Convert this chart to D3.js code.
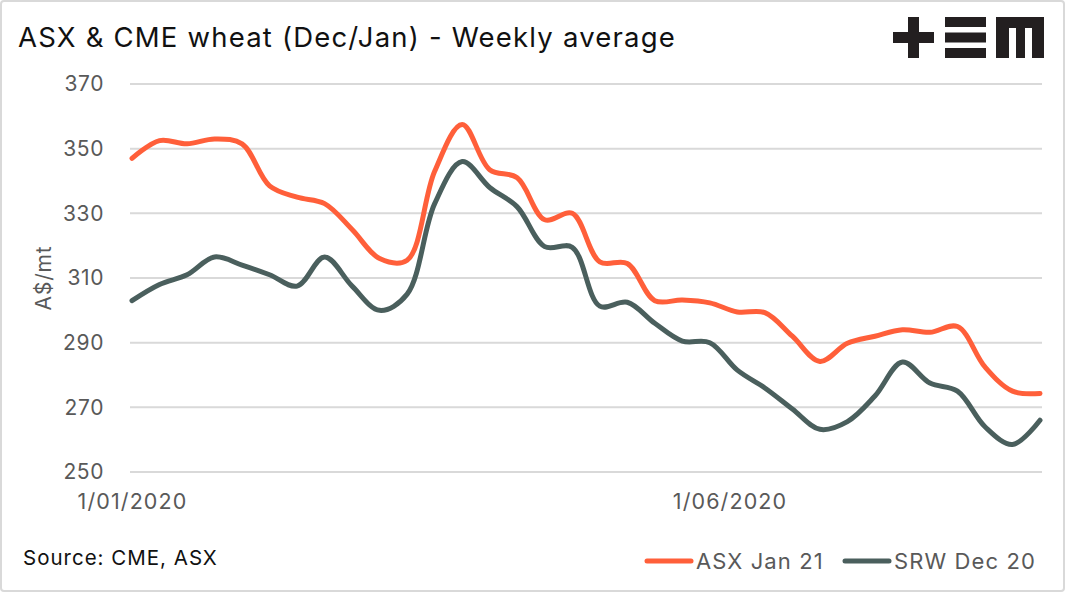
<!DOCTYPE html>
<html>
<head>
<meta charset="utf-8">
<script src="https://cdn.jsdelivr.net/npm/d3@7"></script>
<style>
  body { margin: 0; background: #fff; }
  text { font-family: Inter, "Open Sans", sans-serif; }
</style>
</head>
<body>
<svg id="chart" width="1065" height="592"></svg>
<script>
// weekly averages, starting 1 Jan 2020
const startDate = new Date(2020, 0, 1)
const asxJan21 = [347, 352.5, 351.5, 353, 351.5, 338.5, 335, 333, 325, 316, 315.5, 343, 357.5, 343.5, 341,
  328, 330, 315, 314.5, 303, 303.2, 302.3, 299.5, 299.3, 292, 284.2, 289.8, 292, 294, 293.2, 295, 282.5, 275, 274.3]
const srwDec20 = [303, 308, 311, 316.5, 314, 311, 307.5, 316.5, 307.5, 300, 305, 333, 346, 338, 332,
  319.7, 319.5, 301.3, 302.5, 296, 290.5, 290, 281.5, 276, 269.5, 263.2, 265.6, 273.5, 284, 277.5, 275, 264, 258.5, 266]
const yTicks = [250, 270, 290, 310, 330, 350, 370]
const xTicks = [new Date(2020, 0, 1), new Date(2020, 5, 1)]
const seriesNames = ['ASX Jan 21', 'SRW Dec 20']
const colors = ['#ff5f3a', '#4a5f5d']

const dates = asxJan21.map((d, i) => d3.timeDay.offset(startDate, i * 7))

const svg = d3.select('#chart')

// outer frame
svg.append('rect')
  .attr('x', 1).attr('y', 1)
  .attr('width', 1063).attr('height', 590)
  .attr('rx', 3)
  .attr('fill', '#fff')
  .attr('stroke', '#d9d9d9')
  .attr('stroke-width', 2)

svg.append('text')
  .attr('x', 18).attr('y', 47)
  .attr('font-size', 27.5)
  .attr('letter-spacing', 1.2)
  .attr('fill', '#111')
  .text('ASX & CME wheat (Dec/Jan) - Weekly average')

// logo
const logo = svg.append('g').attr('fill', '#231f20')
logo.append('rect').attr('x', 893).attr('y', 32).attr('width', 41).attr('height', 11)
logo.append('rect').attr('x', 908).attr('y', 17).attr('width', 11).attr('height', 41)
;[17, 32.5, 48].forEach(y => logo.append('rect').attr('x', 945).attr('y', y).attr('width', 41).attr('height', 10))
logo.append('path')
  .attr('d', 'M996,17H1044V58H1032V28H1025V58H1016V28H1009V58H996Z')

const x = d3.scaleTime()
  .domain([startDate, dates[dates.length - 1]])
  .range([132, 1040])

const y = d3.scaleLinear()
  .domain([250, 370])
  .range([472, 84])

// gridlines
svg.append('g')
  .selectAll('line')
  .data(yTicks)
  .join('line')
    .attr('x1', 130).attr('x2', 1042)
    .attr('y1', d => y(d)).attr('y2', d => y(d))
    .attr('stroke', '#d9d9d9')
    .attr('stroke-width', 2)

const yAxis = svg.append('g')
  .attr('transform', 'translate(104,0)')
  .call(d3.axisLeft(y).tickValues(yTicks).tickSize(0).tickPadding(0))
yAxis.select('.domain').remove()
yAxis.selectAll('text')
  .attr('font-size', 21)
  .attr('letter-spacing', 0.6)
  .attr('fill', '#595959')
  .style('font-family', 'Inter, sans-serif')

const xAxis = svg.append('g')
  .attr('transform', 'translate(0,492)')
  .call(d3.axisBottom(x).tickValues(xTicks).tickFormat(d3.timeFormat('%-d/%m/%Y')).tickSize(0).tickPadding(0))
xAxis.select('.domain').remove()
xAxis.selectAll('text')
  .attr('font-size', 21.5)
  .attr('letter-spacing', 1.1)
  .attr('fill', '#595959')
  .attr('dy', '0.8em')
  .style('font-family', 'Inter, sans-serif')

svg.append('text')
  .attr('transform', 'translate(51,278) rotate(-90)')
  .attr('text-anchor', 'middle')
  .attr('font-size', 21)
  .attr('letter-spacing', 0.8)
  .attr('fill', '#595959')
  .text('A$/mt')

const line = d3.line()
  .x((d, i) => x(dates[i]))
  .y(d => y(d))
  .curve(d3.curveCatmullRom.alpha(0.5))

;[srwDec20, asxJan21].forEach((series, k) => {
  svg.append('path')
    .datum(series)
    .attr('fill', 'none')
    .attr('stroke', colors[1 - k])
    .attr('stroke-width', 5)
    .attr('stroke-linejoin', 'round')
    .attr('stroke-linecap', 'round')
    .attr('d', line)
})

svg.append('text')
  .attr('x', 23).attr('y', 565)
  .attr('font-size', 20.5)
  .attr('letter-spacing', 1)
  .attr('fill', '#111')
  .text('Source: CME, ASX')

// legend
const legendX = [647, 845]
const legend = svg.append('g')
seriesNames.forEach((name, i) => {
  legend.append('line')
    .attr('x1', legendX[i]).attr('x2', legendX[i] + 44)
    .attr('y1', 561).attr('y2', 561)
    .attr('stroke', colors[i])
    .attr('stroke-width', 5)
    .attr('stroke-linecap', 'round')
  legend.append('text')
    .attr('x', legendX[i] + 49).attr('y', 569)
    .attr('font-size', 22)
    .attr('letter-spacing', 1.1)
    .attr('fill', '#595959')
    .text(name)
})
</script>
</body>
</html>
